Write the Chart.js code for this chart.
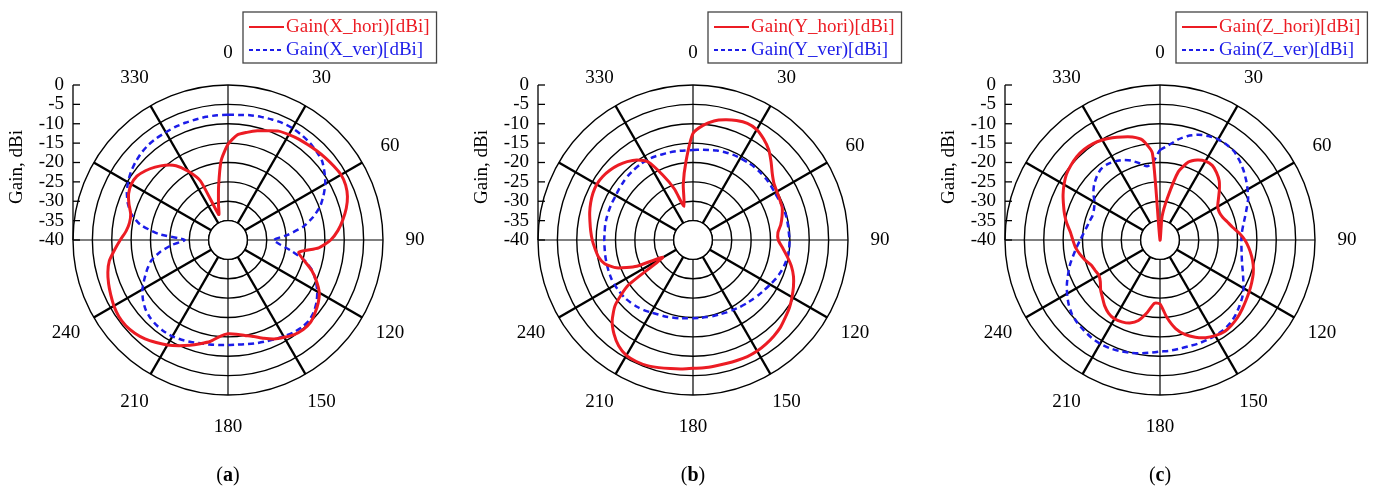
<!DOCTYPE html>
<html>
<head>
<meta charset="utf-8">
<script src="https://cdn.jsdelivr.net/npm/chart.js@4"></script>
<style>
  body { margin: 0; background: #fff; }
  #wrap { position: relative; width: 1378px; height: 496px; }
  canvas { position: absolute; top: 0; }
</style>
</head>
<body>
<div id="wrap">
  <canvas id="chartX" width="460" height="496" style="left:0px"></canvas>
  <canvas id="chartY" width="460" height="496" style="left:460px"></canvas>
  <canvas id="chartZ" width="458" height="496" style="left:920px"></canvas>
</div>
<script>
// azimuth in degrees, 5 degree steps
const angles = Array.from({ length: 72 }, (_, i) => i * 5);
const shownAngles = [0, 30, 60, 90, 120, 150, 180, 210, 240, 330];
const gainTicks = [0, -5, -10, -15, -20, -25, -30, -35, -40];

// X orientation
const xHori = [-15.3, -12.8, -11.8, -10.8, -10.0, -9.0, -8.6, -8.2, -7.9, -7.5, -7.1, -6.7,
  -6.3, -6.5, -7.2, -8.4, -9.9, -11.5, -13.5, -16.5, -21.5, -19.7, -17.0, -14.8,
  -12.8, -11.6, -10.7, -9.9, -9.8, -10.2, -11.0, -11.8, -13.0, -14.2, -15.0, -15.6,
  -15.8, -15.0, -13.4, -12.3, -11.1, -9.9, -8.7, -7.7, -6.7, -6.0, -5.6, -5.6,
  -6.0, -6.6, -7.2, -7.9, -8.9, -10.6, -12.2, -13.6, -14.2, -14.0, -12.8, -11.7,
  -11.2, -11.3, -12.2, -13.4, -14.8, -16.6, -19.5, -23.2, -33.0, -30.5, -26.0, -19.5];
const xVer = [-7.7, -7.6, -7.3, -7.1, -6.9, -6.7, -6.7, -6.9, -7.2, -7.7, -8.3, -9.6,
  -11.0, -12.8, -14.7, -17.3, -20.3, -24.5, -28.2, -26.5, -23.2, -19.5, -16.8, -15.0,
  -13.4, -12.1, -11.1, -10.5, -10.5, -10.8, -11.3, -11.7, -12.1, -12.4, -12.7, -12.9,
  -12.9, -12.8, -12.6, -12.4, -12.0, -11.6, -11.3, -11.2, -11.3, -11.6, -12.2, -13.2,
  -14.5, -16.2, -17.8, -19.5, -22.2, -25.5, -28.8, -22.0, -17.0, -14.2, -12.5, -11.2,
  -10.2, -9.4, -8.8, -8.3, -8.0, -7.9, -7.9, -7.8, -7.8, -7.8, -7.7, -7.7];

// Y orientation
const yHori = [-12.5, -10.3, -8.8, -7.9, -7.2, -6.8, -7.1, -8.2, -9.6, -11.5, -13.3, -14.5,
  -15.0, -15.3, -15.5, -16.2, -17.0, -18.0, -18.0, -16.8, -15.3, -13.7, -12.4, -11.4,
  -10.5, -9.6, -8.9, -8.1, -7.6, -7.2, -6.9, -6.8, -6.9, -7.0, -7.0, -6.9,
  -6.9, -6.6, -6.3, -5.9, -5.5, -5.4, -5.6, -6.6, -8.3, -10.5, -13.8, -19.5,
  -31.0, -24.0, -19.0, -16.4, -15.2, -14.6, -14.0, -13.5, -13.0, -12.4, -11.9, -11.5,
  -11.3, -11.5, -12.0, -12.7, -13.6, -14.8, -16.7, -21.5, -26.0, -31.0, -25.5, -19.5];
const yVer = [-16.8, -16.6, -16.4, -16.1, -15.9, -15.7, -15.6, -15.5, -15.4, -15.4, -15.4, -15.5,
  -15.6, -15.5, -15.3, -15.2, -15.2, -15.2, -15.1, -15.1, -15.2, -15.5, -15.9, -16.4,
  -17.0, -17.5, -17.9, -18.3, -18.6, -18.9, -19.2, -19.4, -19.6, -19.7, -19.8, -19.8,
  -19.8, -19.7, -19.5, -19.3, -19.0, -18.8, -18.4, -17.9, -17.5, -17.2, -16.9, -16.8,
  -16.7, -16.7, -16.8, -16.9, -17.0, -17.1, -17.1, -17.1, -17.0, -17.0, -17.0, -17.0,
  -17.0, -16.8, -16.6, -16.4, -16.3, -16.2, -16.2, -16.3, -16.5, -16.6, -16.7, -16.8];

// Z orientation
const zHori = [-40.0, -34.0, -29.0, -21.8, -18.6, -17.2, -16.5, -16.5, -17.3, -18.4, -20.0, -21.6,
  -22.8, -23.1, -22.8, -22.0, -21.0, -19.5, -18.1, -17.0, -16.0, -15.1, -14.4, -13.9,
  -13.4, -12.9, -12.3, -11.7, -11.3, -11.1, -11.5, -12.2, -13.3, -14.7, -16.8, -20.0,
  -23.5, -23.6, -21.0, -18.5, -17.2, -16.7, -16.5, -16.9, -17.8, -19.0, -20.0, -21.2,
  -21.8, -21.5, -21.1, -20.0, -19.0, -18.1, -17.5, -16.8, -15.6, -14.5, -13.5, -12.4,
  -11.4, -10.5, -10.0, -9.6, -9.5, -9.7, -10.2, -10.9, -11.7, -12.5, -13.8, -17.5];
const zVer = [-16.8, -15.5, -13.7, -12.2, -11.1, -10.4, -10.0, -10.0, -10.2, -11.0, -11.9, -12.9,
  -13.9, -14.9, -16.2, -17.3, -18.2, -18.8, -19.0, -18.9, -18.6, -18.1, -17.3, -16.3,
  -15.1, -14.1, -13.3, -12.5, -11.9, -11.6, -11.5, -11.5, -11.5, -11.6, -11.5, -11.3,
  -11.2, -10.8, -10.3, -9.9, -9.5, -9.2, -9.1, -9.2, -9.5, -9.8, -10.3, -11.2,
  -12.3, -13.5, -14.8, -16.0, -17.3, -18.4, -19.4, -20.2, -20.8, -21.2, -21.5, -21.2,
  -20.5, -19.0, -17.8, -16.9, -16.2, -16.2, -16.6, -17.2, -18.2, -19.5, -20.7, -19.8];

const RED = 'rgb(236, 28, 36)';
const BLUE = 'rgb(28, 28, 232)';
const SERIF = '"Liberation Serif", "Times New Roman", serif';

// frame around each polar plot: hole, gain axis, angle labels, legend, caption
const polarFrame = {
  id: 'polarFrame',
  beforeDatasetsDraw(chart) {
    const s = chart.scales.r;
    const ctx = chart.ctx;
    const rHole = s.getDistanceFromCenterForValue(-35);
    ctx.save();
    ctx.beginPath();
    ctx.arc(s.xCenter, s.yCenter, rHole, 0, Math.PI * 2);
    ctx.fillStyle = '#fff';
    ctx.fill();
    ctx.lineWidth = 1.4;
    ctx.strokeStyle = '#000';
    ctx.stroke();
    ctx.restore();
  },
  afterDraw(chart, args, opts) {
    const s = chart.scales.r;
    const ctx = chart.ctx;
    const cx = s.xCenter, cy = s.yCenter, R = s.drawingArea;
    ctx.save();
    ctx.font = '19px ' + SERIF;
    ctx.fillStyle = '#000';
    ctx.textBaseline = 'middle';

    // angle labels
    ctx.textAlign = 'center';
    shownAngles.forEach(a => {
      const p = s.getPointPosition(a / 5, R + 32);
      ctx.fillText(String(a), p.x, p.y);
    });

    // gain axis on the left
    const x0 = cx - R;
    ctx.strokeStyle = '#000';
    ctx.lineWidth = 1.3;
    ctx.beginPath();
    ctx.moveTo(x0, cy - R);
    ctx.lineTo(x0, cy);
    ctx.stroke();
    ctx.textAlign = 'right';
    gainTicks.forEach(v => {
      const y = cy - s.getDistanceFromCenterForValue(v);
      ctx.beginPath();
      ctx.moveTo(x0, y);
      ctx.lineTo(x0 + 7, y);
      ctx.stroke();
      ctx.fillText(String(v), x0 - 9, y);
    });
    ctx.save();
    ctx.translate(cx - 211, cy - 73);
    ctx.rotate(-Math.PI / 2);
    ctx.textAlign = 'center';
    ctx.fillText('Gain, dBi', 0, 0);
    ctx.restore();

    // legend box
    const lx = opts.legendX, ly = 12;
    const names = ['Gain(' + opts.axis + '_hori)[dBi]', 'Gain(' + opts.axis + '_ver)[dBi]'];
    const tw = Math.max(ctx.measureText(names[0]).width, ctx.measureText(names[1]).width);
    ctx.strokeStyle = '#444';
    ctx.lineWidth = 1.3;
    ctx.strokeRect(lx, ly, tw + 50, 51);
    ctx.textAlign = 'left';
    [[RED, [], 2, names[0], 27], [BLUE, [4, 3], 2, names[1], 50]].forEach(([c, dash, w, t, y]) => {
      ctx.strokeStyle = c;
      ctx.lineWidth = w;
      ctx.setLineDash(dash);
      ctx.beginPath();
      ctx.moveTo(lx + 6, y);
      ctx.lineTo(lx + 41, y);
      ctx.stroke();
      ctx.setLineDash([]);
      ctx.fillStyle = c;
      ctx.fillText(t, lx + 43, y);
    });

    // caption (a), (b), (c)
    ctx.fillStyle = '#000';
    const reg = '20px ' + SERIF, bold = 'bold 20px ' + SERIF;
    ctx.font = reg;
    const wp = ctx.measureText('(').width;
    ctx.font = bold;
    const wl = ctx.measureText(opts.caption).width;
    let x = cx - (wp * 2 + wl) / 2;
    const yc = 476;
    ctx.font = reg; ctx.fillText('(', x, yc); x += wp;
    ctx.font = bold; ctx.fillText(opts.caption, x, yc); x += wl;
    ctx.font = reg; ctx.fillText(')', x, yc);
    ctx.restore();
  }
};

function makeChart(id, hori, ver, axis, caption, legendX, padLeft, canvasWidth) {
  new Chart(document.getElementById(id), {
    type: 'radar',
    data: {
      labels: angles,
      datasets: [
        { label: 'Gain(' + axis + '_hori)[dBi]', data: hori, borderColor: RED, borderWidth: 3 },
        { label: 'Gain(' + axis + '_ver)[dBi]', data: ver, borderColor: BLUE, borderWidth: 2.5, borderDash: [6, 4] }
      ]
    },
    options: {
      responsive: false,
      animation: false,
      layout: { padding: { left: padLeft, right: canvasWidth - padLeft - 310, top: 85, bottom: 101 } },
      elements: {
        point: { radius: 0, hoverRadius: 0 },
        line: { fill: false, tension: 0.2, borderJoinStyle: 'round' }
      },
      scales: {
        r: {
          min: -40,
          max: 0,
          ticks: { stepSize: 5, display: false },
          pointLabels: { display: false },
          grid: { circular: true, color: '#000', lineWidth: 1.4 },
          angleLines: {
            color: '#000',
            lineWidth: c => (c.index % 6 !== 0 ? 0 : (c.index % 18 === 0 ? 1.2 : 2.4))
          }
        }
      },
      plugins: {
        legend: { display: false },
        tooltip: { enabled: false },
        polarFrame: { axis: axis, caption: caption, legendX: legendX }
      }
    },
    plugins: [polarFrame]
  });
}

makeChart('chartX', xHori, xVer, 'X', 'a', 243, 73, 460);
makeChart('chartY', yHori, yVer, 'Y', 'b', 248, 78, 460);
makeChart('chartZ', zHori, zVer, 'Z', 'c', 256, 85, 458);
</script>
</body>
</html>
